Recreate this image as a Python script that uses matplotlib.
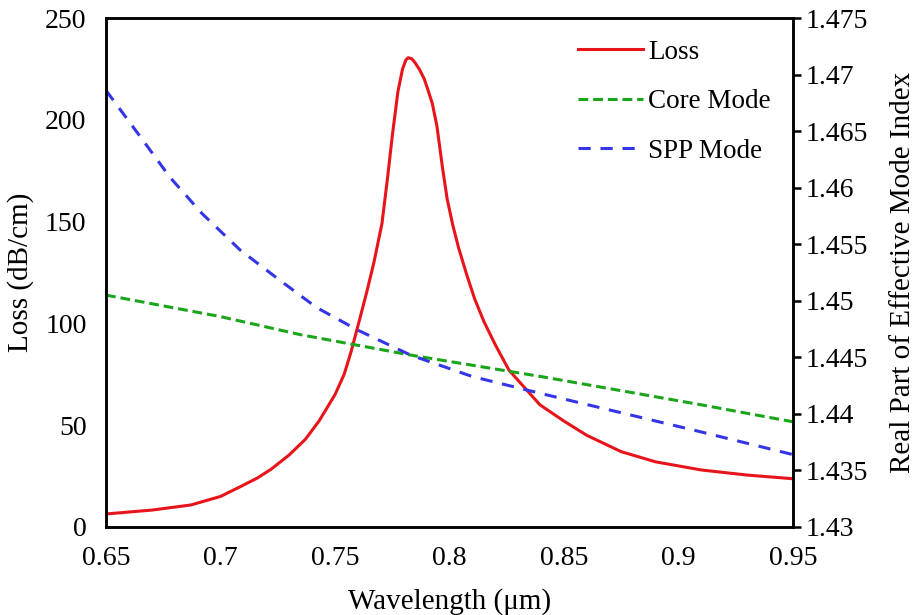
import numpy as np
import matplotlib.pyplot as plt

# values
lam_loss = [0.65, 0.67, 0.687, 0.70, 0.709, 0.716, 0.722, 0.730, 0.737, 0.743, 0.750,
            0.754, 0.757, 0.761, 0.764, 0.767, 0.7705, 0.773, 0.775, 0.7775, 0.7795,
            0.781, 0.782, 0.7835, 0.785, 0.787, 0.789, 0.7905, 0.7925, 0.7945, 0.797,
            0.799, 0.8015, 0.804, 0.8075, 0.811, 0.815, 0.820, 0.826, 0.8395, 0.85,
            0.86, 0.875, 0.89, 0.91, 0.93, 0.95]
loss = [6.4, 8.3, 10.8, 15, 20, 24, 28.3, 35.4, 43, 52, 65,
        75, 86, 103, 116, 130, 149, 172, 192, 214, 225,
        229.5, 230.5, 230, 228, 224.5, 220, 215, 208, 197, 176,
        161, 148, 137, 124, 112, 101, 89.5, 77, 60, 52,
        45, 37, 32, 28, 25.5, 23.7]

lam_core = [0.65, 0.70, 0.735, 0.783, 0.84, 0.91, 0.95]
core = [1.4505, 1.4486, 1.4470, 1.4452, 1.4433, 1.4408, 1.4393]

lam_spp = [0.65, 0.665, 0.678, 0.692, 0.7085, 0.726, 0.742, 0.76, 0.783, 0.81, 0.84, 0.875, 0.91, 0.95]
spp = [1.4686, 1.4645, 1.4609, 1.4577, 1.4545, 1.4518, 1.4494, 1.4474, 1.4452, 1.4433, 1.4418, 1.4401, 1.4384, 1.4364]

xticks = [0.65, 0.7, 0.75, 0.8, 0.85, 0.9, 0.95]
yticks_left = [0, 50, 100, 150, 200, 250]
yticks_right = [1.43, 1.435, 1.44, 1.445, 1.45, 1.455, 1.46, 1.465, 1.47, 1.475]

plt.rcParams['font.family'] = 'Liberation Serif'

fig = plt.figure(figsize=(9.21, 6.15), dpi=100)
ax = fig.add_axes([0.1151, 0.1431, 0.861 - 0.1151, 0.9707 - 0.1431])
ax2 = ax.twinx()

l1, = ax.plot(lam_loss, loss, color='#e8141b', lw=2.2, label='Loss')
l2, = ax2.plot(lam_core, core, color='#1aa51a', lw=2.2, dashes=(3.2, 1.6), label='Core Mode')
l3, = ax2.plot(lam_spp, spp, color='#3535e8', lw=2.2, dashes=(4.0, 3.2), label='SPP Mode')

ax.set_xlim(0.65, 0.95)
ax.set_ylim(0, 250)
ax2.set_ylim(1.43, 1.475)

ax.set_xticks(xticks)
ax.set_xticklabels([f'{t:g}' for t in xticks])
ax.set_yticks(yticks_left)
ax2.set_yticks(yticks_right)
ax2.set_yticklabels([f'{t:g}' for t in yticks_right])

ax.tick_params(axis='both', length=0, labelsize=20)
ax.tick_params(axis='y', pad=14)
ax.tick_params(axis='x', pad=14)
ax2.tick_params(axis='y', direction='out', length=6, width=1.8, labelsize=20, pad=3)

for a in (ax, ax2):
    for s in a.spines.values():
        s.set_linewidth(1.8)
        s.set_color('black')

ax.set_xlabel('Wavelength (\u03bcm)', fontsize=21, labelpad=12)
ax.set_ylabel('Loss (dB/cm)', fontsize=21, labelpad=8)
ax2.set_ylabel('Real Part of Effective Mode Index', fontsize=21, labelpad=16)

ax2.legend(handles=[l1, l2, l3], loc='upper right', frameon=False, fontsize=19.5,
           handlelength=2.4, handletextpad=0.2, labelspacing=0.9,
           bbox_to_anchor=(1.003, 1.005))

fig.savefig('out.png', dpi=100)
